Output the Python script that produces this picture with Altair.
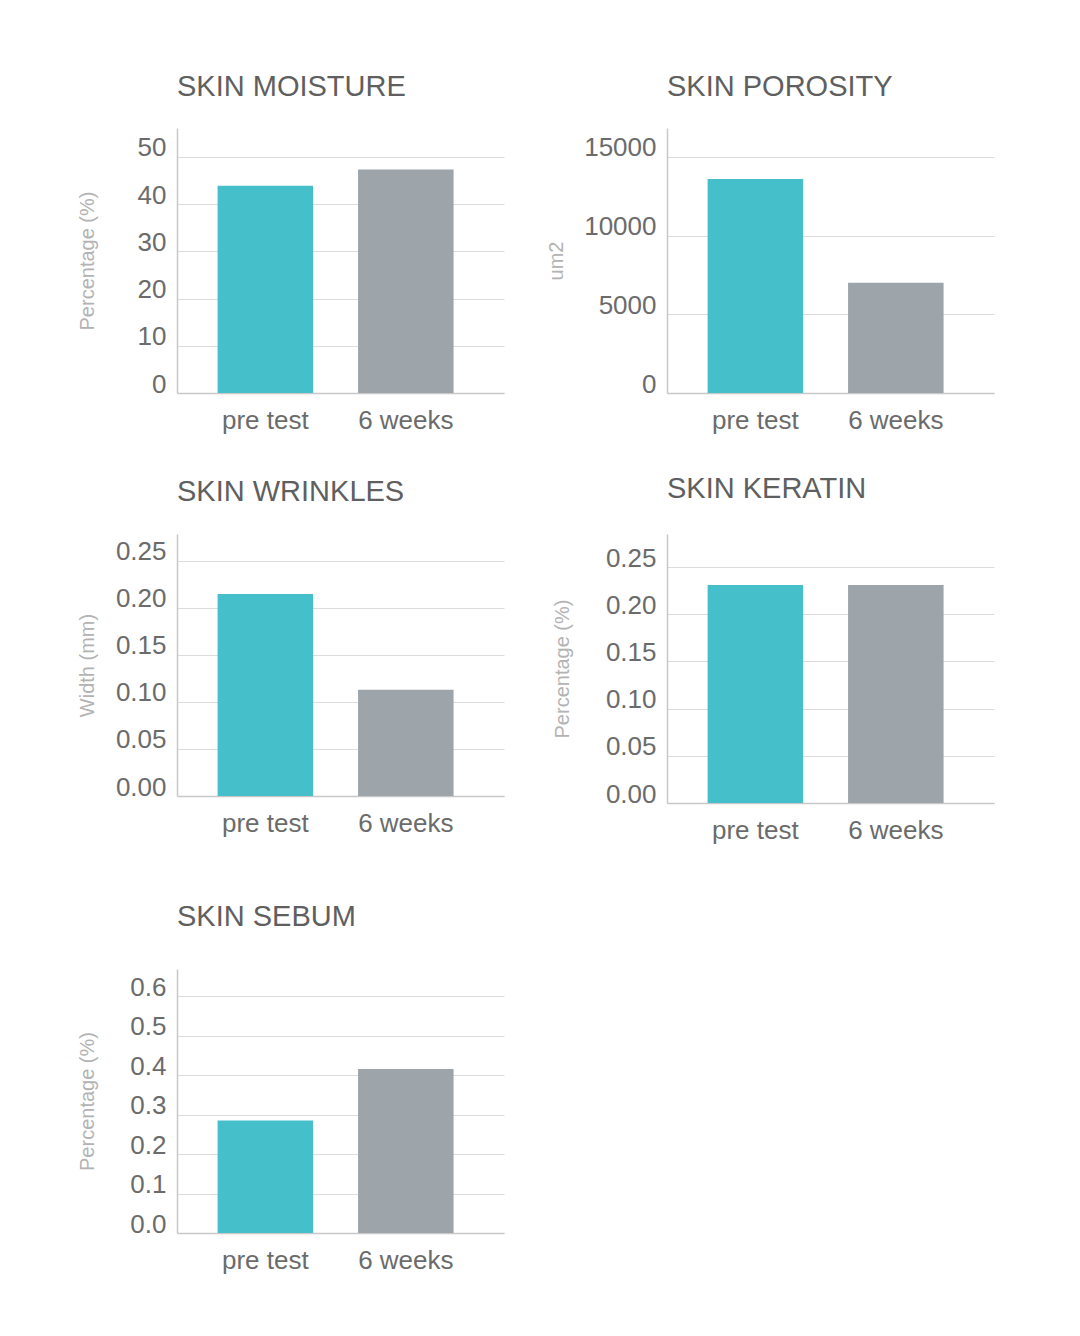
import altair as alt
import pandas as pd

categories = ["pre test", "6 weeks"]

moisture = [43.9, 47.3]
porosity = [13600, 7000]
wrinkles = [0.215, 0.113]
keratin = [0.231, 0.231]
sebum = [0.285, 0.415]

moisture_ticks = [0, 10, 20, 30, 40, 50]
porosity_ticks = [0, 5000, 10000, 15000]
wrinkles_ticks = [0.0, 0.05, 0.10, 0.15, 0.20, 0.25]
keratin_ticks = [0.0, 0.05, 0.10, 0.15, 0.20, 0.25]
sebum_ticks = [0.0, 0.1, 0.2, 0.3, 0.4, 0.5, 0.6]

TEAL = "#45C0CB"
GREY = "#9DA4AA"
FONT = "Liberation Sans"


def panel(title, values, ytitle, ticks, fmt, ymax, height, title_offset,
          title_pad, extra_bottom=None):
    df = pd.DataFrame({"cat": categories, "val": values})
    xaxis_kw = dict(
        labelAngle=0, labelFontSize=26, labelFont=FONT, labelColor="#6b6b6b",
        labelPadding=14, ticks=False, tickSize=0, domainColor="#c8c8c8",
        domainWidth=1.5, labelBaseline="top",
    )
    xtitle = None
    if extra_bottom is not None:
        xtitle = "."
        xaxis_kw.update(titleOpacity=0, titleFontSize=extra_bottom,
                        titlePadding=0)
    return alt.Chart(
        df,
        title=alt.TitleParams(
            title, anchor="start", frame="group", offset=title_offset,
            baseline="alphabetic", fontSize=29, font=FONT,
            fontWeight="normal", color="#5f5f5f",
        ),
    ).mark_bar().encode(
        x=alt.X(
            "cat:N", sort=categories, title=xtitle,
            scale=alt.Scale(paddingInner=0.32, paddingOuter=0.324, align=0.446),
            axis=alt.Axis(**xaxis_kw),
        ),
        y=alt.Y(
            "val:Q", title=ytitle,
            scale=alt.Scale(domain=[0, ymax], nice=False, zero=True),
            axis=alt.Axis(
                values=ticks, format=fmt, grid=True, gridColor="#dcdcdc",
                gridWidth=1, ticks=False, tickSize=0,
                labelBaseline="alphabetic", labelOffset=-1, labelPadding=11,
                labelFontSize=26, labelFont=FONT, labelColor="#6b6b6b",
                domainColor="#c8c8c8", domainWidth=1.5,
                titleFontSize=20, titleFont=FONT, titleFontWeight="normal",
                titleColor="#b3b3b3", titlePadding=title_pad,
                minExtent=60, maxExtent=60,
            ),
        ),
        color=alt.Color(
            "cat:N", scale=alt.Scale(domain=categories, range=[TEAL, GREY]),
            legend=None,
        ),
    ).properties(width=327, height=height)


p_moist = panel("SKIN MOISTURE", moisture, "Percentage (%)", moisture_ticks,
                "d", 56.1, 265, 3, 20)
p_poro = panel("SKIN POROSITY", porosity, "um2", porosity_ticks,
               "d", 16843, 265, 3, 41)
p_wrin = panel("SKIN WRINKLES", wrinkles, "Width (mm)", wrinkles_ticks,
               ".2f", 0.2787, 262, 4, 20)
p_kera = panel("SKIN KERATIN", keratin, "Percentage (%)", keratin_ticks,
               ".2f", 0.285, 269, 7, 35, extra_bottom=18)
p_sebu = panel("SKIN SEBUM", sebum, "Percentage (%)", sebum_ticks,
               ".1f", 0.6684, 264, 14, 20)

row1 = alt.hconcat(p_moist, p_poro, spacing=163, bounds="flush")
row2 = alt.hconcat(p_wrin, p_kera, spacing=163, bounds="flush")

chart = alt.vconcat(row1, row2, p_sebu, spacing=42).properties(
    padding={"left": 69, "top": 65, "right": 5, "bottom": 5}
).configure(
    background="white",
    view=alt.ViewConfig(stroke="transparent", strokeWidth=0),
)

chart.save("out.html", embed_options={"renderer": "svg", "actions": False})
